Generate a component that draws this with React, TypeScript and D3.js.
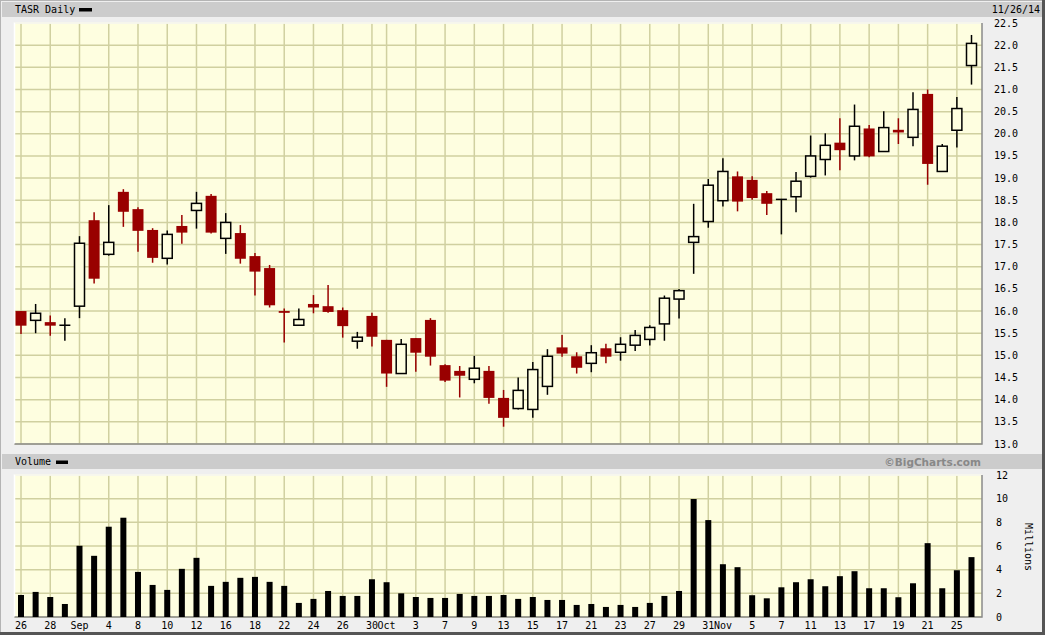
import React, { useEffect, useRef } from 'react';
import * as d3 from 'd3';

// trading days, Aug 26 - Nov 26 2014
const dates = [
  '08-26', '08-27', '08-28', '08-29', '09-02', '09-03', '09-04', '09-05', '09-08', '09-09',
  '09-10', '09-11', '09-12', '09-15', '09-16', '09-17', '09-18', '09-19', '09-22', '09-23',
  '09-24', '09-25', '09-26', '09-29', '09-30', '10-01', '10-02', '10-03', '10-06', '10-07',
  '10-08', '10-09', '10-10', '10-13', '10-14', '10-15', '10-16', '10-17', '10-20', '10-21',
  '10-22', '10-23', '10-24', '10-27', '10-28', '10-29', '10-30', '10-31', '11-03', '11-04',
  '11-05', '11-06', '11-07', '11-10', '11-11', '11-12', '11-13', '11-14', '11-17', '11-18',
  '11-19', '11-20', '11-21', '11-24', '11-25', '11-26',
];

const open = [
  16.0, 15.79, 15.75, 15.68, 16.11, 18.05, 17.28, 18.69, 18.3, 17.83,
  17.19, 17.92, 18.27, 18.6, 17.64, 17.76, 17.24, 16.97, 16.0, 15.68,
  16.16, 16.11, 16.02, 15.32, 15.89, 15.35, 14.59, 15.39, 15.8, 14.78,
  14.65, 14.46, 14.65, 14.04, 13.8, 13.78, 14.3, 15.18, 14.98, 14.82,
  15.16, 15.07, 15.23, 15.36, 15.71, 16.27, 17.55, 18.02, 18.49, 19.04,
  18.96, 18.66, 18.52, 18.58, 19.04, 19.42, 19.8, 19.5, 20.12, 19.6,
  20.09, 19.92, 20.9, 19.15, 20.08, 21.54,
];
const high = [
  16.0, 16.16, 15.9, 15.84, 17.69, 18.23, 18.39, 18.75, 18.34, 17.87,
  17.82, 18.17, 18.69, 18.64, 18.21, 17.94, 17.31, 17.04, 16.06, 16.06,
  16.36, 16.59, 16.08, 15.53, 15.96, 15.35, 15.37, 15.39, 15.84, 14.8,
  14.76, 14.99, 14.76, 14.22, 14.5, 14.85, 15.14, 15.46, 15.07, 15.23,
  15.26, 15.41, 15.57, 15.68, 16.35, 16.5, 18.42, 18.98, 19.45, 19.15,
  19.04, 18.71, 18.53, 19.14, 19.96, 20.01, 20.35, 20.66, 20.2, 20.51,
  20.35, 20.94, 21.0, 19.77, 20.83, 22.23,
];
const low = [
  15.48, 15.5, 15.44, 15.33, 15.84, 16.62, 17.25, 17.9, 17.34, 17.09,
  17.05, 17.52, 17.86, 17.75, 17.29, 17.07, 16.35, 16.08, 15.29, 15.68,
  15.95, 15.96, 15.4, 15.15, 15.2, 14.29, 14.59, 14.63, 14.77, 14.4,
  14.05, 14.37, 13.91, 13.39, 13.78, 13.59, 14.11, 14.97, 14.59, 14.62,
  14.82, 14.88, 15.1, 15.22, 15.33, 15.83, 16.84, 17.88, 18.36, 18.25,
  18.51, 18.17, 17.73, 18.23, 19.01, 19.06, 19.18, 19.4, 19.47, 19.6,
  19.77, 19.72, 18.85, 19.15, 19.69, 21.11,
];
const close = [
  15.67, 15.95, 15.67, 15.68, 17.53, 16.73, 17.55, 18.24, 17.81, 17.2,
  17.73, 17.77, 18.43, 17.77, 18.0, 17.18, 16.89, 16.13, 15.96, 15.81,
  16.08, 15.98, 15.66, 15.41, 15.42, 14.59, 15.25, 15.06, 14.97, 14.43,
  14.54, 14.71, 14.04, 13.59, 14.21, 14.68, 14.98, 15.04, 14.72, 15.06,
  14.97, 15.25, 15.45, 15.63, 16.29, 16.46, 17.68, 18.84, 19.15, 18.47,
  18.55, 18.42, 18.52, 18.93, 19.5, 19.74, 19.63, 20.17, 19.49, 20.14,
  20.03, 20.55, 19.32, 19.72, 20.57, 22.04,
];
// millions of shares
const volume = [
  1.86, 2.12, 1.69, 1.1, 6.02, 5.17, 7.63, 8.39, 3.81, 2.71,
  2.29, 4.07, 5.0, 2.63, 2.97, 3.31, 3.39, 2.97, 2.63, 1.19,
  1.53, 2.2, 1.78, 1.78, 3.19, 2.94, 2.0, 1.69, 1.61, 1.61,
  1.95, 1.78, 1.78, 1.86, 1.53, 1.69, 1.44, 1.44, 1.02, 1.1,
  0.85, 1.02, 0.85, 1.19, 1.78, 2.2, 9.97, 8.19, 4.46, 4.21,
  1.84, 1.58, 2.51, 2.94, 3.19, 2.6, 3.45, 3.87, 2.43, 2.43,
  1.67, 2.85, 6.24, 2.43, 3.95, 5.06,
];

const tickDates = [
  '08-26', '08-28', '09-02', '09-04', '09-08', '09-10', '09-12', '09-16', '09-18', '09-22',
  '09-24', '09-26', '09-30', '10-01', '10-03', '10-07', '10-09', '10-13', '10-15', '10-17',
  '10-21', '10-23', '10-27', '10-29', '10-31', '11-03', '11-05', '11-07', '11-11', '11-13',
  '11-17', '11-19', '11-21', '11-25',
];
const tickLabels = [
  '26', '28', 'Sep', '4', '8', '10', '12', '16', '18', '22',
  '24', '26', '30', 'Oct', '3', '7', '9', '13', '15', '17',
  '21', '23', '27', '29', '31', 'Nov', '5', '7', '11', '13',
  '17', '19', '21', '25',
];
const priceTicks = [13.0, 13.5, 14.0, 14.5, 15.0, 15.5, 16.0, 16.5, 17.0, 17.5, 18.0, 18.5, 19.0, 19.5, 20.0, 20.5, 21.0, 21.5, 22.0, 22.5];
const volumeTicks = [0, 2, 4, 6, 8, 10, 12];

const W = 1045;
const H = 635;
const MONO = '"DejaVu Sans Mono", monospace';

export default function App() {
  const svgRef = useRef<SVGSVGElement>(null);

  useEffect(() => {
    if (!svgRef.current) return;
    const svg = d3.select(svgRef.current);
    svg.selectAll('*').remove();

    const left = 14.5;
    const right = 982;
    const pTop = 23;
    const pBottom = 444;
    const vTop = 475;
    const vBottom = 617;

    const x = d3.scalePoint<string>().domain(dates).range([21, 971.5]);
    const yP = d3.scaleLinear().domain([13, 22.5]).range([pBottom, pTop]);
    const yV = d3.scaleLinear().domain([0, 12]).range([vBottom, vTop]);

    const bg = '#fefee0';
    const grid = '#d0d0a0';
    const red = '#990000';

    // frame
    svg.append('rect').attr('width', W).attr('height', H).attr('fill', '#efefef');
    svg.append('rect').attr('x', 0.5).attr('y', 0.5).attr('width', W - 2).attr('height', H - 2)
      .attr('fill', 'none').attr('stroke', '#b4b4b4');
    svg.append('line').attr('x1', W - 1.5).attr('x2', W - 1.5).attr('y1', 0).attr('y2', H)
      .attr('stroke', '#555').attr('stroke-width', 3);
    svg.append('line').attr('x1', 0).attr('x2', W).attr('y1', H - 1.5).attr('y2', H - 1.5)
      .attr('stroke', '#555').attr('stroke-width', 3);

    // header bars
    svg.append('rect').attr('x', 2).attr('y', 2).attr('width', W - 5).attr('height', 15).attr('fill', '#cccccc');
    svg.append('rect').attr('x', 2).attr('y', 454).attr('width', W - 5).attr('height', 15).attr('fill', '#cccccc');

    const panels = [
      { top: pTop, bottom: pBottom, ticks: priceTicks, y: yP },
      { top: vTop, bottom: vBottom, ticks: volumeTicks, y: yV },
    ];

    panels.forEach(p => {
      svg.append('rect').attr('x', left).attr('y', p.top).attr('width', right - left).attr('height', p.bottom - p.top)
        .attr('fill', bg);

      svg.append('g').selectAll('line').data(p.ticks).join('line')
        .attr('x1', left).attr('x2', right)
        .attr('y1', d => p.y(d)).attr('y2', d => p.y(d))
        .attr('stroke', grid).attr('stroke-width', 1.5);

      svg.append('g').selectAll('line').data(tickDates).join('line')
        .attr('x1', d => x(d)!).attr('x2', d => x(d)!)
        .attr('y1', p.top).attr('y2', p.bottom)
        .attr('stroke', grid).attr('stroke-width', 1.5);

      // bevel border: light top/left, dark bottom/right
      svg.append('path').attr('d', `M${left},${p.bottom} V${p.top} H${right}`)
        .attr('fill', 'none').attr('stroke', '#ffffff').attr('stroke-width', 1.5);
      svg.append('path').attr('d', `M${left},${p.bottom} H${right} V${p.top}`)
        .attr('fill', 'none').attr('stroke', '#8a8a8a').attr('stroke-width', 1.5);
    });

    // candlesticks
    const candles = dates.map((d, i) => ({ d, o: open[i], h: high[i], l: low[i], c: close[i] }));
    const bodyW = 10;
    const cg = svg.append('g');

    cg.selectAll('line.wick').data(candles).join('line')
      .attr('class', 'wick')
      .attr('x1', d => x(d.d)!).attr('x2', d => x(d.d)!)
      .attr('y1', d => yP(d.h)).attr('y2', d => yP(d.l))
      .attr('stroke', d => (d.c < d.o ? red : '#000'))
      .attr('stroke-width', 1.5);

    cg.selectAll('rect.down').data(candles.filter(d => d.c < d.o)).join('rect')
      .attr('class', 'down')
      .attr('x', d => x(d.d)! - bodyW / 2 - 0.5)
      .attr('width', bodyW + 1)
      .attr('y', d => yP(d.o))
      .attr('height', d => Math.max(1.5, yP(d.c) - yP(d.o)))
      .attr('fill', red);

    cg.selectAll('rect.up').data(candles.filter(d => d.c > d.o)).join('rect')
      .attr('class', 'up')
      .attr('x', d => x(d.d)! - bodyW / 2)
      .attr('width', bodyW)
      .attr('y', d => yP(d.c))
      .attr('height', d => Math.max(1, yP(d.o) - yP(d.c)))
      .attr('fill', bg)
      .attr('stroke', '#000')
      .attr('stroke-width', 1.5);

    cg.selectAll('line.doji').data(candles.filter(d => d.c === d.o)).join('line')
      .attr('class', 'doji')
      .attr('x1', d => x(d.d)! - bodyW / 2 - 0.5).attr('x2', d => x(d.d)! + bodyW / 2 + 0.5)
      .attr('y1', d => yP(d.c)).attr('y2', d => yP(d.c))
      .attr('stroke', '#000').attr('stroke-width', 1.5);

    // volume bars
    svg.append('g').selectAll('rect').data(dates).join('rect')
      .attr('x', d => x(d)! - 3)
      .attr('width', 6)
      .attr('y', (d, i) => yV(volume[i]))
      .attr('height', (d, i) => vBottom - yV(volume[i]))
      .attr('fill', '#000');

    // texts
    const text = (tx: number, ty: number, s: string, anchor = 'start') =>
      svg.append('text').attr('x', tx).attr('y', ty).attr('text-anchor', anchor)
        .attr('font-family', MONO).attr('font-size', 10).attr('fill', '#000').text(s);

    text(15, 13, 'TASR Daily');
    svg.append('rect').attr('x', 79).attr('y', 8).attr('width', 13).attr('height', 3.5).attr('fill', '#000');
    text(1040, 13, '11/26/14', 'end');

    text(15, 465, 'Volume');
    svg.append('rect').attr('x', 56).attr('y', 460.5).attr('width', 12).attr('height', 3.5).attr('fill', '#000');
    svg.append('text').attr('x', 981).attr('y', 465.5).attr('text-anchor', 'end')
      .attr('font-family', '"DejaVu Sans", Verdana, sans-serif').attr('font-weight', 'bold')
      .attr('font-size', 10.5).attr('fill', '#888888').text('\u00A9BigCharts.com');

    svg.append('g').selectAll('text').data(priceTicks).join('text')
      .attr('x', 994).attr('y', d => yP(d)).attr('dy', '0.35em')
      .attr('font-family', MONO).attr('font-size', 10).attr('fill', '#000')
      .text(d => d3.format('.1f')(d));

    svg.append('g').selectAll('text').data(volumeTicks).join('text')
      .attr('x', 996).attr('y', d => yV(d)).attr('dy', '0.35em')
      .attr('font-family', MONO).attr('font-size', 10).attr('fill', '#000')
      .text(d => String(d));

    svg.append('text').attr('transform', 'translate(1028,547) rotate(90)')
      .attr('text-anchor', 'middle').attr('dy', '0.35em')
      .attr('font-family', MONO).attr('font-size', 10).attr('fill', '#000').text('Millions');

    svg.append('g').selectAll('text').data(tickDates).join('text')
      .attr('x', d => x(d)!).attr('y', 629).attr('text-anchor', 'middle')
      .attr('font-family', MONO).attr('font-size', 10).attr('fill', '#000')
      .text((d, i) => tickLabels[i]);
  }, []);

  return (
    <svg
      ref={svgRef}
      width={W}
      height={H}
      style={{ position: 'absolute', left: 0, top: 0, display: 'block' }}
    />
  );
}
